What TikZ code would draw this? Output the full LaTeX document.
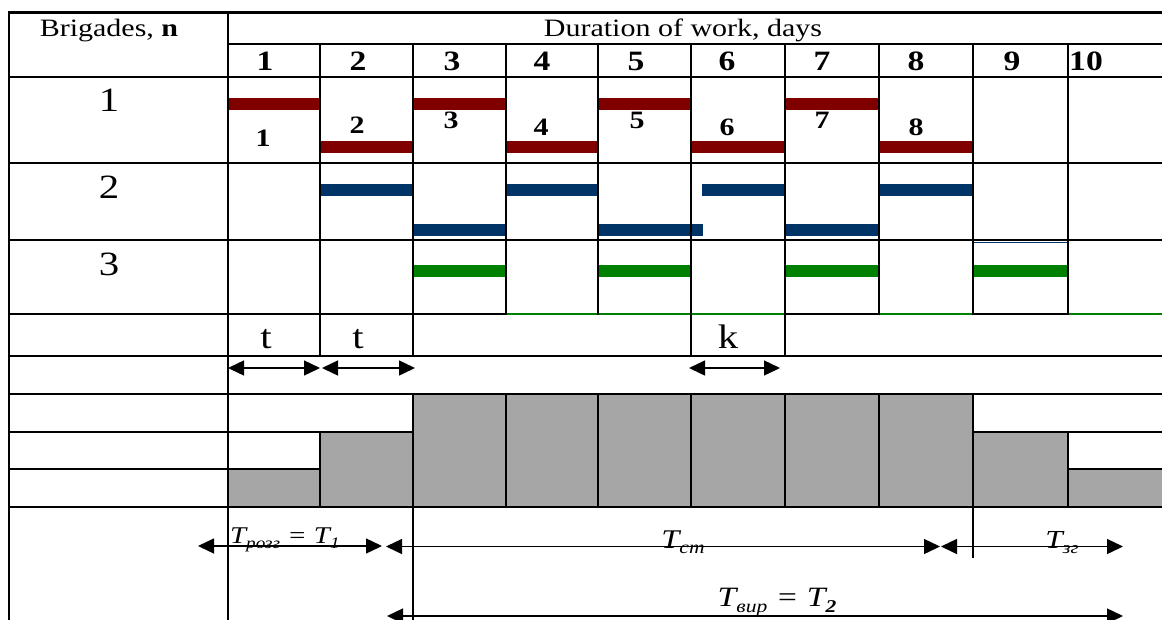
\documentclass[tikz,border=0pt]{standalone}
\usepackage{fontspec}
\setmainfont{Liberation Serif}[FakeStretch=1.2]
\usetikzlibrary{arrows.meta}

\definecolor{barred}{HTML}{800000}
\definecolor{barblue}{HTML}{003366}
\definecolor{bargreen}{HTML}{008000}
\definecolor{histgray}{HTML}{A6A6A6}

\newcommand{\lowsub}[3]{\raisebox{-#2}{\fontsize{#3}{#3}\selectfont #1}}

\begin{document}
\begin{tikzpicture}[x=1pt, y=-1pt,
  grid/.style={line width=2.2pt, line cap=rect},
  greenline/.style={bargreen, line width=1.3pt},
  head/.style={font=\fontsize{25}{30}\selectfont, anchor=base, inner sep=0pt},
  day/.style={font=\fontsize{28}{30}\selectfont\bfseries, anchor=base, inner sep=0pt},
  brig/.style={font=\fontsize{34}{36}\selectfont, anchor=base, inner sep=0pt},
  num/.style={font=\fontsize{25}{28}\selectfont\bfseries, anchor=base, inner sep=0pt},
  tlab/.style={font=\fontsize{24}{26}\selectfont\itshape, anchor=base, inner sep=0pt},
  dim/.style={{Triangle[length=16pt,width=15pt]}-{Triangle[length=16pt,width=15pt]}, line width=1.4pt},
]

\useasboundingbox (0,0) rectangle (1162,619);
\clip (0,0) rectangle (1162,619);

% === histogram (workers) ===
\fill[histgray] (228,469) rectangle (320,507);
\fill[histgray] (320,432) rectangle (413,507);
\fill[histgray] (413,394) rectangle (973,507);
\fill[histgray] (973,432) rectangle (1068,507);
\fill[histgray] (1068,469) rectangle (1162,507);

% === bars, brigade 1 ===
\fill[barred] (228,98) rectangle (320,109.5);
\fill[barred] (320,141) rectangle (413,153);
\fill[barred] (413,98) rectangle (506,109.5);
\fill[barred] (506,141) rectangle (598,153);
\fill[barred] (598,98) rectangle (691,109.5);
\fill[barred] (691,141) rectangle (785,153);
\fill[barred] (785,98) rectangle (879,109.5);
\fill[barred] (879,141) rectangle (973,153);

% === bars, brigade 2 ===
\fill[barblue] (320,184) rectangle (413,196);
\fill[barblue] (413,224) rectangle (506,236);
\fill[barblue] (506,184) rectangle (598,196);
\fill[barblue] (598,224) rectangle (703,236);
\fill[barblue] (702,184) rectangle (785,196);
\fill[barblue] (785,224) rectangle (879,236);
\fill[barblue] (879,184) rectangle (973,196);
\draw[barblue, line width=1.3pt] (973,242.3) -- (1068,242.3);

% === bars, brigade 3 ===
\fill[bargreen] (413,265) rectangle (506,277);
\fill[bargreen] (598,265) rectangle (691,277);
\fill[bargreen] (785,265) rectangle (879,277);
\fill[bargreen] (973,265) rectangle (1068,277);

% === table lines ===
\draw[grid] (9,12.5) -- (1162,12.5);
\draw[grid] (228,44.3) -- (1162,44.3);
\draw[grid] (9,76.7) -- (1162,76.7);
\draw[grid] (9,163) -- (1162,163);
\draw[grid] (9,240) -- (1162,240);
\draw[grid] (9,314) -- (506,314);
\draw[greenline] (506,314) -- (785,314);
\draw[grid] (785,314) -- (879,314);
\draw[greenline] (879,314) -- (973,314);
\draw[grid] (973,314) -- (1068,314);
\draw[greenline] (1068,314) -- (1162,314);
\draw[grid] (9,355.7) -- (1162,355.7);
\draw[grid] (9,394) -- (1162,394);
\draw[grid] (9,432) -- (413,432);
\draw[grid] (973,432) -- (1162,432);
\draw[grid] (9,469) -- (320,469);
\draw[grid] (1068,469) -- (1162,469);
\draw[grid] (9,507) -- (1162,507);

\draw[grid] (9,12.5) -- (9,619);
\draw[grid] (228,12.5) -- (228,619);
\foreach \cx in {320,413,506,598,691,785,879,973,1068}
  \draw[grid] (\cx,44.3) -- (\cx,314);
\draw[grid] (320,314) -- (320,355.7);
\draw[grid] (413,314) -- (413,355.7);
\draw[grid] (691,314) -- (691,355.7);
\draw[grid] (785,314) -- (785,355.7);
\draw[grid] (320,432) -- (320,507);
\draw[grid] (413,394) -- (413,619);
\foreach \cx in {506,598,691,785,879}
  \draw[grid] (\cx,394) -- (\cx,507);
\draw[line width=2.8pt] (973,394) -- (973,558);
\draw[grid] (1068,432) -- (1068,507);

% === header ===
\node[head] (brigades) at (109,36.7) {Brigades, \textbf{n}};
\node[head] (duration) at (683,36.7) {Duration of work, days};

\node[day] (d1) at (265,70) {1};
\node[day] (d2) at (358,70) {2};
\node[day] (d3) at (452,70) {3};
\node[day] (d4) at (542,70) {4};
\node[day] (d5) at (636,70) {5};
\node[day] (d6) at (727,70) {6};
\node[day] (d7) at (822,70) {7};
\node[day] (d8) at (916,70) {8};
\node[day] (d9) at (1012,70) {9};
\node[day, anchor=base west] (d10) at (1069,70) {10};

% === brigades ===
\node[brig] (b1) at (109,111) {1};
\node[brig] (b2) at (109,198) {2};
\node[brig] (b3) at (109,275) {3};

\node[num] (n1) at (263,146) {1};
\node[num] (n2) at (357,133) {2};
\node[num] (n3) at (451,128) {3};
\node[num] (n4) at (541,135) {4};
\node[num] (n5) at (637,128) {5};
\node[num] (n6) at (727,135) {6};
\node[num] (n7) at (822,128) {7};
\node[num] (n8) at (916,135) {8};

% === steps and break ===
\node[brig] (t1) at (266,348) {t};
\node[brig] (t2) at (358,348) {t};
\node[brig] (k) at (728,348) {k};

\coordinate (t1a) at (228,368);
\coordinate (t1b) at (320,368);
\coordinate (t2a) at (322,368);
\coordinate (t2b) at (415,368);
\coordinate (ka) at (689,368);
\coordinate (kb) at (780,368);
\draw[dim] (t1a) -- (t1b);
\draw[dim] (t2a) -- (t2b);
\draw[dim] (ka) -- (kb);

% === periods ===
\coordinate (roza) at (198,546);
\coordinate (rozb) at (382,546);
\coordinate (sta) at (386,546.5);
\coordinate (stb) at (940,546.5);
\coordinate (zga) at (941,546.5);
\coordinate (zgb) at (1123,546.5);
\coordinate (vira) at (387,616);
\coordinate (virb) at (1123,616);
\draw[dim] (roza) -- (rozb);
\draw[dim] (sta) -- (stb);
\draw[dim] (zga) -- (zgb);
\draw[dim] (vira) -- (virb);

\node[tlab, anchor=base west] (Troz) at (230,543) {T\lowsub{розг}{5pt}{16} = T\lowsub{1}{5pt}{16}};
\node[tlab, font=\fontsize{27}{30}\selectfont\itshape] (Tst) at (683,548) {T\lowsub{ст}{5pt}{18}};
\node[tlab, font=\fontsize{26}{30}\selectfont\itshape] (Tzg) at (1062,548) {T\lowsub{зг}{5pt}{17}};
\node[tlab, font=\fontsize{28}{30}\selectfont\itshape] (Tvir) at (777,606)
  {T\lowsub{вир}{6pt}{18} = T\lowsub{\textbf{2}}{6pt}{18}};

\end{tikzpicture}
\end{document}
